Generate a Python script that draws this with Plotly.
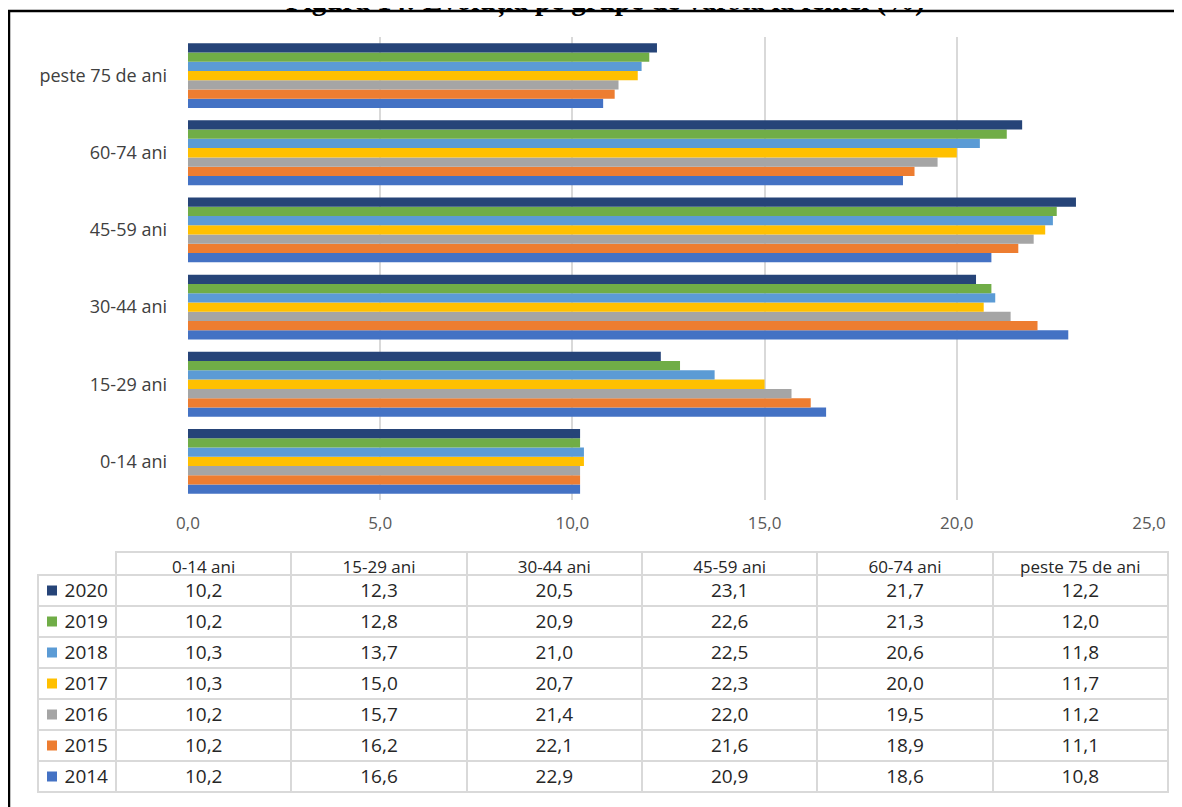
import plotly.graph_objects as go

W, H = 1182, 807
OFF = 8  # page body margin in the browser

categories = ["0-14 ani", "15-29 ani", "30-44 ani", "45-59 ani", "60-74 ani", "peste 75 de ani"]
years = ["2014", "2015", "2016", "2017", "2018", "2019", "2020"]
v2014 = [10.2, 16.6, 22.9, 20.9, 18.6, 10.8]
v2015 = [10.2, 16.2, 22.1, 21.6, 18.9, 11.1]
v2016 = [10.2, 15.7, 21.4, 22.0, 19.5, 11.2]
v2017 = [10.3, 15.0, 20.7, 22.3, 20.0, 11.7]
v2018 = [10.3, 13.7, 21.0, 22.5, 20.6, 11.8]
v2019 = [10.2, 12.8, 20.9, 22.6, 21.3, 12.0]
v2020 = [10.2, 12.3, 20.5, 23.1, 21.7, 12.2]
series = [v2014, v2015, v2016, v2017, v2018, v2019, v2020]
colors = ["#4472C4", "#ED7D31", "#A5A5A5", "#FFC000", "#5B9BD5", "#70AD47", "#264478"]
x_ticks = [0, 5, 10, 15, 20, 25]
title_text = "Figura 14: Evoluția pe grupe de vârstă la femei (%)"

FONT = "Open Sans"
TXT = "#262626"
LINE = "#D9D9D9"


def px_x(p):
    return (p - OFF) / W


def px_y(p):
    return 1 - (p - OFF) / H


fig = go.Figure()
for yr, vals, col in zip(years, series, colors):
    fig.add_trace(go.Bar(
        y=categories, x=vals, name=yr, orientation="h",
        marker=dict(color=col, line=dict(width=0)),
        showlegend=False, hoverinfo="x+name",
    ))

# ---- data table ----
order = list(range(len(years)))[::-1]  # 2020 first


def fmt(v):
    return f"{v:.1f}".replace(".", ",")


row_h = 31
head_h = 23
tbl_top = 552
rows_top = tbl_top + head_h
rows_bottom = rows_top + row_h * len(years)

year_col = [years[i] for i in order]
fig.add_trace(go.Table(
    domain=dict(x=[px_x(38), px_x(116)], y=[px_y(805), px_y(rows_top)]),
    columnwidth=[1],
    header=dict(values=[year_col[0]], height=row_h, align="right",
                fill=dict(color="rgba(0,0,0,0)"), line=dict(color=LINE, width=2),
                font=dict(family=FONT, size=19, color=TXT)),
    cells=dict(values=[year_col[1:]], height=row_h, align="right",
               fill=dict(color="rgba(0,0,0,0)"), line=dict(color=LINE, width=2),
               font=dict(family=FONT, size=19, color=TXT)),
))

data_cols = [[fmt(series[i][ci]) for i in order] for ci in range(len(categories))]
fig.add_trace(go.Table(
    domain=dict(x=[px_x(116), px_x(1168)], y=[px_y(805), px_y(tbl_top)]),
    columnwidth=[1] * len(categories),
    header=dict(values=categories, height=head_h, align="center",
                fill=dict(color="white"), line=dict(color=LINE, width=2),
                font=dict(family=FONT, size=17, color=TXT)),
    cells=dict(values=data_cols, height=row_h, align="center",
               fill=dict(color="white"), line=dict(color=LINE, width=2),
               font=dict(family=FONT, size=19, color=TXT)),
))

# legend keys in the year column
fig.add_trace(go.Scatter(
    x=[0] * len(years), y=years, mode="markers",
    marker=dict(symbol="square", size=10, color=colors, line=dict(width=0)),
    xaxis="x2", yaxis="y2", showlegend=False, hoverinfo="skip",
))

fig.update_layout(
    width=W, height=H,
    margin=dict(l=0, r=0, t=0, b=0),
    paper_bgcolor="white", plot_bgcolor="rgba(0,0,0,0)",
    separators=",.",
    barmode="group", bargap=0.16, bargroupgap=0,
    font=dict(family=FONT),
    xaxis=dict(
        domain=[px_x(188), px_x(1149)], range=[0, 25], tickvals=x_ticks,
        tickformat=".1f", showgrid=True, gridcolor=LINE, gridwidth=2,
        zeroline=False, showline=False, ticks="", automargin=False,
        tickfont=dict(family=FONT, size=17, color="#595959"),
        ticklabelstandoff=11, fixedrange=True,
    ),
    yaxis=dict(
        domain=[px_y(500), px_y(37)], type="category",
        categoryorder="array", categoryarray=categories,
        showgrid=False, zeroline=False, showline=False, ticks="", automargin=False,
        tickfont=dict(family=FONT, size=18, color="#404040"),
        ticklabelstandoff=20, fixedrange=True,
    ),
    xaxis2=dict(
        domain=[px_x(42), px_x(62)], range=[-1, 1], anchor="y2",
        visible=False, fixedrange=True, automargin=False,
    ),
    yaxis2=dict(
        domain=[px_y(rows_bottom), px_y(rows_top)], range=[-0.5, 6.5], anchor="x2",
        type="category", categoryorder="array", categoryarray=years,
        visible=False, fixedrange=True, automargin=False,
    ),
    shapes=[
        dict(type="rect", xref="paper", yref="paper",
             x0=px_x(9), x1=1.02, y0=-0.02, y1=px_y(11),
             line=dict(color="black", width=2.5), fillcolor="rgba(0,0,0,0)", layer="above"),
    ],
    annotations=[
        dict(text=f"<b>{title_text}</b>", xref="paper", yref="paper",
             x=px_x(605), y=px_y(1), xanchor="center", yanchor="middle",
             showarrow=False, font=dict(family="Liberation Serif", size=29, color="black")),
    ],
)

fig.write_html("out.html")
